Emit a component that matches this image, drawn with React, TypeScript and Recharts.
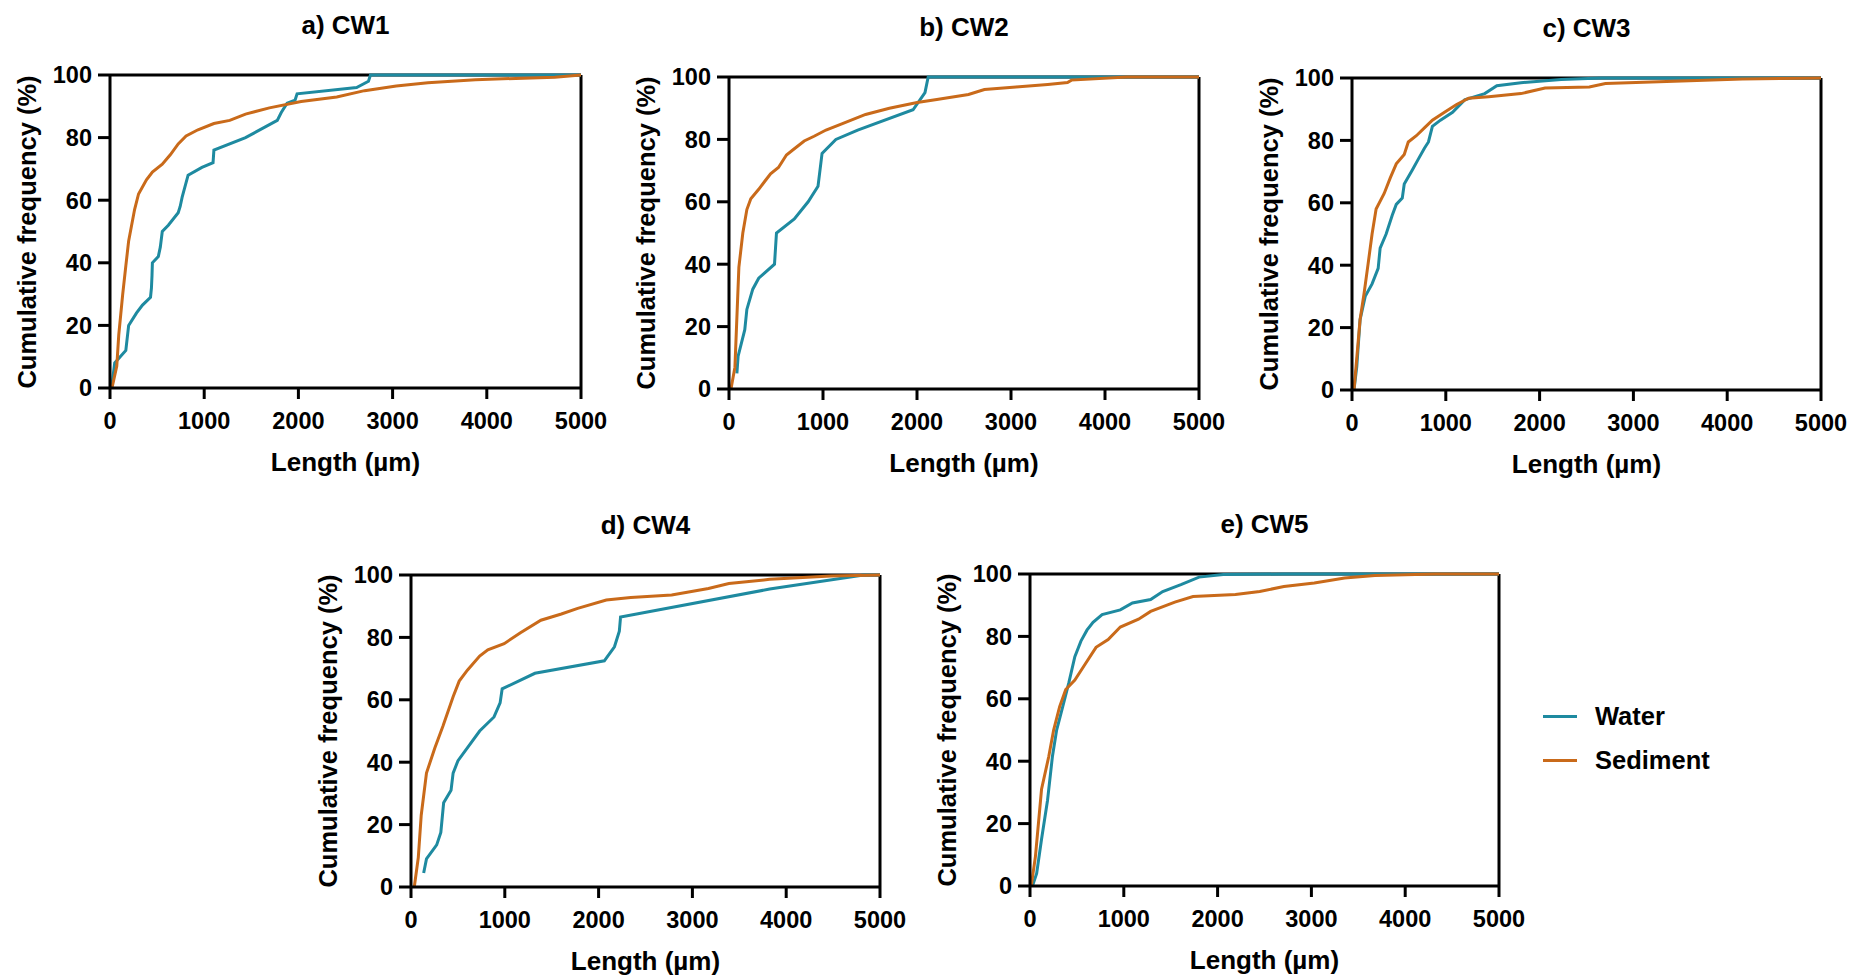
import React from 'react';
import { LineChart, Line, XAxis, YAxis, CartesianGrid } from 'recharts';

// [length µm, cumulative %]
const CW1_WATER = [[21, 1], [50, 8], [168, 12], [198, 20], [282, 24], [345, 26.5], [430, 29], [440, 32], [446, 36], [450, 40], [513, 42], [534, 45], [555, 50], [619, 52], [724, 56], [745, 58], [766, 61], [829, 68], [976, 70.5], [1094, 72], [1103, 76], [1439, 80], [1776, 85.5], [1818, 88], [1880, 91], [1965, 92], [1986, 94], [2618, 96], [2744, 98], [2765, 100], [5000, 100]];
const CW1_SEDIMENT = [[21, 0], [72, 7], [93, 17], [135, 30], [168, 39], [198, 47], [261, 57], [303, 62], [387, 66.5], [450, 69], [555, 71.5], [640, 74.5], [724, 78], [808, 80.5], [934, 82.5], [1103, 84.5], [1271, 85.5], [1439, 87.5], [1692, 89.5], [2029, 91.5], [2407, 93], [2702, 95], [3039, 96.5], [3375, 97.5], [3880, 98.5], [4722, 99.3], [5000, 100]];

const CW2_WATER = [[84, 5], [97, 10.5], [168, 19], [190, 25.5], [253, 32], [316, 35.5], [484, 40], [505, 50], [695, 54.5], [842, 60], [947, 65], [990, 75.5], [1137, 80], [1369, 83], [1958, 89.5], [2085, 95], [2119, 100], [5000, 100]];
const CW2_SEDIMENT = [[21, 0], [63, 7], [105, 39], [147, 50], [190, 57.5], [232, 61], [316, 64], [379, 66.5], [442, 69], [526, 71], [611, 75], [695, 77], [800, 79.5], [905, 81], [1032, 83], [1200, 85], [1453, 88], [1706, 90], [2001, 91.8], [2211, 92.8], [2548, 94.4], [2717, 96], [3054, 96.8], [3391, 97.6], [3601, 98.2], [3643, 99], [4233, 100], [5000, 100]];

const CW3_WATER = [[21, 0], [51, 7.5], [86, 22.5], [141, 30], [214, 34], [279, 39], [300, 45.5], [364, 50], [429, 56], [472, 59.5], [536, 61.5], [557, 66], [643, 70.5], [707, 74], [772, 77.5], [815, 79.5], [857, 84.5], [943, 86.5], [1072, 89], [1201, 93], [1415, 95], [1544, 97.5], [1801, 98.5], [2230, 99.5], [2659, 100], [5000, 100]];
const CW3_SEDIMENT = [[21, 0], [43, 7.5], [86, 22.5], [129, 31], [172, 40.5], [214, 50], [257, 58], [343, 63], [408, 68], [472, 72.5], [557, 75.5], [600, 79.5], [686, 81.5], [772, 84], [857, 86.5], [986, 89], [1115, 91.5], [1244, 93.5], [1458, 94], [1801, 95], [2058, 96.8], [2530, 97.1], [2702, 98.2], [3516, 99], [4160, 99.7], [5000, 100]];

const CW4_WATER = [[135, 4.5], [165, 9], [274, 13.5], [318, 17.5], [348, 27], [427, 31], [449, 36.5], [501, 40.5], [732, 50], [885, 54.5], [950, 59], [972, 63.5], [1321, 68.5], [2061, 72.5], [2169, 77], [2221, 82], [2234, 86.5], [3824, 95.5], [4826, 100], [5000, 100]];
const CW4_SEDIMENT = [[35, 0], [78, 9.5], [109, 23], [165, 36.5], [253, 44.5], [340, 51.5], [449, 61], [514, 66], [601, 69.5], [732, 74], [819, 76], [993, 78], [1167, 81.5], [1385, 85.5], [1603, 87.5], [1777, 89.3], [2082, 92], [2343, 92.8], [2779, 93.6], [3171, 95.7], [3389, 97.3], [3824, 98.6], [4477, 99.7], [5000, 100]];

const CW5_WATER = [[26, 0], [71, 4], [123, 15], [187, 27.5], [239, 41.5], [284, 50], [349, 57.5], [413, 65], [478, 73.5], [543, 78.5], [607, 82], [672, 84.5], [769, 87], [963, 88.5], [1092, 90.7], [1286, 91.8], [1415, 94.4], [1609, 96.6], [1802, 99], [2060, 99.8], [2707, 100], [5000, 100]];
const CW5_SEDIMENT = [[13, 0], [58, 9.5], [123, 31], [200, 41.5], [252, 50], [316, 57.5], [381, 63], [478, 66], [575, 70.5], [704, 76.5], [833, 79], [963, 83], [1157, 85.5], [1286, 88], [1544, 91], [1738, 92.8], [2190, 93.4], [2449, 94.4], [2707, 96], [3031, 97.1], [3354, 98.7], [3677, 99.5], [4323, 100], [5000, 100]];

const X_TICKS = [0, 1000, 2000, 3000, 4000, 5000];
const Y_TICKS = [0, 20, 40, 60, 80, 100];

const WATER = '#1e8aa0';
const SEDIMENT = '#c96a1a';
const FONT = '"Liberation Sans", Arial, sans-serif';

const toPoints = (pairs: number[][]) => pairs.map(([len, pct]) => ({ len, pct }));

// plot-area boxes (left, top, width, height) in page pixels
const PANELS = [
  { title: 'a) CW1', water: CW1_WATER, sediment: CW1_SEDIMENT, left: 110, top: 75, w: 471, h: 313 },
  { title: 'b) CW2', water: CW2_WATER, sediment: CW2_SEDIMENT, left: 729, top: 77, w: 470, h: 312 },
  { title: 'c) CW3', water: CW3_WATER, sediment: CW3_SEDIMENT, left: 1352, top: 78, w: 469, h: 312 },
  { title: 'd) CW4', water: CW4_WATER, sediment: CW4_SEDIMENT, left: 411, top: 575, w: 469, h: 312 },
  { title: 'e) CW5', water: CW5_WATER, sediment: CW5_SEDIMENT, left: 1030, top: 574, w: 469, h: 312 },
];

const ML = 100, MT = 20, MR = 30, MB = 60;

const tickStyle = { fill: '#000', fontSize: 23.5, fontWeight: 700, fontFamily: FONT };

const Panel = ({ p }: { p: typeof PANELS[number] }) => {
  const cx = p.left + p.w / 2;
  const cy = p.top + p.h / 2;
  return (
    <>
      <div style={{ position: 'absolute', left: cx - 100, width: 200, top: p.top - 64, textAlign: 'center', fontSize: 26, fontWeight: 700, fontFamily: FONT, lineHeight: '28px' }}>
        {p.title}
      </div>
      <div style={{ position: 'absolute', left: p.left - 83 - 200, top: cy - 15, width: 400, height: 30, lineHeight: '30px', textAlign: 'center', transform: 'rotate(-90deg)', fontSize: 25.5, fontWeight: 700, fontFamily: FONT, whiteSpace: 'nowrap' }}>
        Cumulative frequency (%)
      </div>
      <div style={{ position: 'absolute', left: cx - 150, width: 300, top: p.top + p.h + 74 - 15, lineHeight: '30px', textAlign: 'center', fontSize: 26, fontWeight: 700, fontFamily: FONT }}>
        Length (µm)
      </div>
      <div style={{ position: 'absolute', left: p.left - ML, top: p.top - MT }}>
        <LineChart width={p.w + ML + MR} height={p.h + MT + MB} margin={{ top: MT, right: MR, bottom: 0, left: 0 }}>
          <CartesianGrid horizontalValues={[100]} verticalValues={[5000]} stroke="#000" strokeWidth={3} />
          <XAxis
            dataKey="len"
            type="number"
            domain={[0, 5000]}
            ticks={X_TICKS}
            height={MB}
            axisLine={{ stroke: '#000', strokeWidth: 3 }}
            tickLine={{ stroke: '#000', strokeWidth: 3 }}
            tickSize={11}
            tickMargin={13}
            tick={tickStyle}
            allowDataOverflow
          />
          <YAxis
            dataKey="pct"
            type="number"
            domain={[0, 100]}
            ticks={Y_TICKS}
            width={ML}
            axisLine={{ stroke: '#000', strokeWidth: 3 }}
            tickLine={{ stroke: '#000', strokeWidth: 3 }}
            tickSize={12}
            tickMargin={6}
            tick={tickStyle}
          />
          <Line data={toPoints(p.water)} dataKey="pct" type="linear" stroke={WATER} strokeWidth={3} dot={false} isAnimationActive={false} />
          <Line data={toPoints(p.sediment)} dataKey="pct" type="linear" stroke={SEDIMENT} strokeWidth={3} dot={false} isAnimationActive={false} />
        </LineChart>
      </div>
    </>
  );
};

export default function App() {
  return (
    <div style={{ position: 'fixed', left: 0, top: 0, width: 1870, height: 977, background: '#fff', overflow: 'hidden' }}>
      {PANELS.map((p) => (
        <Panel key={p.title} p={p} />
      ))}
      {/* legend */}
      {[{ name: 'Water', color: WATER, y: 716 }, { name: 'Sediment', color: SEDIMENT, y: 760 }].map((item) => (
        <div key={item.name} style={{ position: 'absolute', left: 1543, top: item.y - 15, height: 30, display: 'flex', alignItems: 'center' }}>
          <div style={{ width: 34, height: 3, background: item.color, marginRight: 18 }} />
          <span style={{ fontSize: 25.5, fontWeight: 700, fontFamily: FONT }}>{item.name}</span>
        </div>
      ))}
    </div>
  );
}
